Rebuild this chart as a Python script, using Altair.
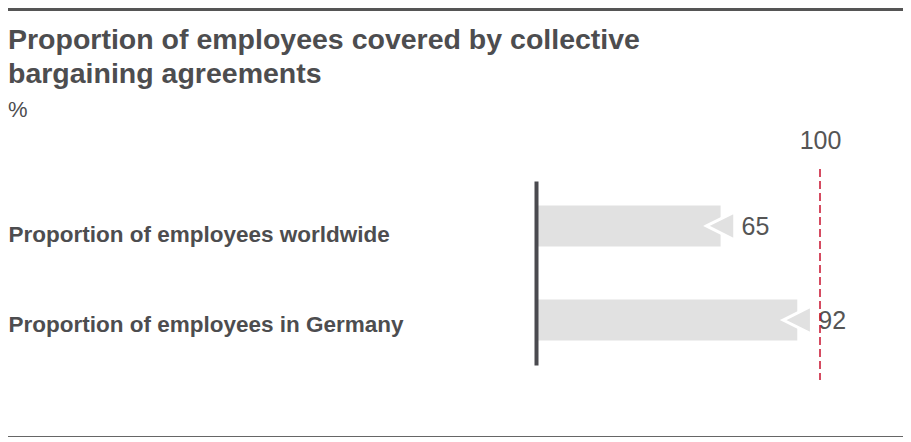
import altair as alt
import pandas as pd

categories = ["Proportion of employees worldwide", "Proportion of employees in Germany"]
values = [65, 92]
reference_value = [100]
title_line_1 = "Proportion of employees covered by collective"
title_line_2 = "bargaining agreements"
unit = "%"

df = pd.DataFrame({"category": categories, "value": values})
ref_df = pd.DataFrame({"value": reference_value})
one = pd.DataFrame({"k": [0]})

TEXT = "#4d4d4f"
FONT = "Liberation Sans"

x_scale = alt.Scale(domain=[0, 100], nice=False, zero=True)
y_scale = alt.Scale(domain=categories, paddingInner=0.564, paddingOuter=0.26)

base = alt.Chart(df)

bars = base.mark_bar(color="#e1e1e1").encode(
    x=alt.X("value:Q", scale=x_scale,
            axis=alt.Axis(orient="top", values=[100], ticks=False, domain=False, grid=False,
                          labelFlush=False, labelFontSize=25, labelColor="#555555",
                          labelFont=FONT, labelPadding=28, title=None)),
    y=alt.Y("category:N", scale=y_scale, sort=categories,
            axis=alt.Axis(orient="left", ticks=False, tickSize=0, domain=True,
                          domainColor="#4a4a4f", domainWidth=4, zindex=1,
                          labelAlign="left", labelPadding=528, labelLimit=0,
                          labelFontSize=22.5, labelFontWeight="bold", labelFont=FONT,
                          labelColor=TEXT,
                          labelOffset={"condition": {"test": f"datum.value == '{categories[0]}'",
                                                     "value": 9}, "value": 5},
                          title=None)),
)

arrows = base.mark_point(
    shape="M-1,0L1,-1L1,1Z", size=800, filled=True, fill="#e1e1e1",
    stroke="white", strokeWidth=3, opacity=1,
).encode(x="value:Q", y=alt.Y("category:N", sort=categories))

labels = base.mark_text(
    align="left", baseline="middle", dx=21, dy=1, fontSize=25, font=FONT, color="#555555"
).encode(x="value:Q", y=alt.Y("category:N", sort=categories), text="value:Q")

ref_line = alt.Chart(ref_df).mark_rule(
    color="#c8102e", strokeDash=[8, 4], strokeWidth=1.5
).encode(x="value:Q", y=alt.value(-12), y2=alt.value(199))

top_rule = alt.Chart(one).mark_rule(color="#555555", strokeWidth=3).encode(
    x=alt.value(-528), x2=alt.value(367), y=alt.value(-171.5))
bottom_rule = alt.Chart(one).mark_rule(color="#666666", strokeWidth=1).encode(
    x=alt.value(-528), x2=alt.value(367), y=alt.value(255.5))

title1 = alt.Chart(one).mark_text(
    align="left", baseline="alphabetic", fontSize=28.5, fontWeight="bold", font=FONT, color=TEXT
).encode(x=alt.value(-528), y=alt.value(-132), text=alt.value(title_line_1))
title2 = alt.Chart(one).mark_text(
    align="left", baseline="alphabetic", fontSize=28.5, fontWeight="bold", font=FONT, color=TEXT
).encode(x=alt.value(-528), y=alt.value(-98), text=alt.value(title_line_2))
unit_text = alt.Chart(one).mark_text(
    align="left", baseline="alphabetic", fontSize=22, font=FONT, color=TEXT
).encode(x=alt.value(-528), y=alt.value(-64), text=alt.value(unit))

chart = alt.layer(bars, arrows, labels, ref_line, top_rule, bottom_rule,
                  title1, title2, unit_text).properties(
    width=284, height=184,
    autosize=alt.AutoSizeParams(type="none"),
    padding={"left": 528, "top": 173, "right": 83, "bottom": 73},
    background="white",
).configure_view(stroke=None)

chart.save("out.html", embed_options={"renderer": "svg", "actions": False})
